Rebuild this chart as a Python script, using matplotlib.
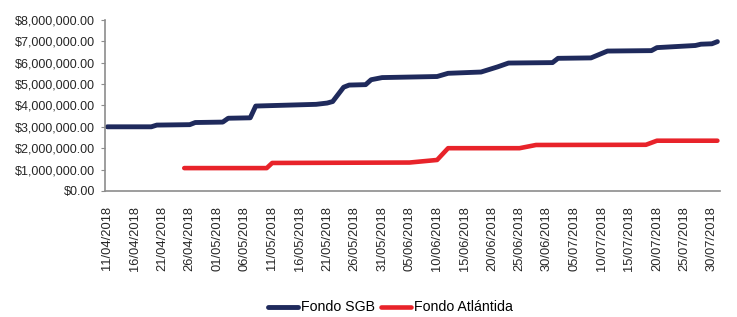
import matplotlib
matplotlib.use('Agg')
import matplotlib.pyplot as plt
import matplotlib.dates as mdates
from matplotlib.ticker import FuncFormatter
import pandas as pd

# Fondo SGB - readings at the points where the line changes
sgb_dates = ['2018-04-11', '2018-04-19', '2018-04-20', '2018-04-26', '2018-04-27',
             '2018-05-02', '2018-05-03', '2018-05-07', '2018-05-08', '2018-05-19',
             '2018-05-21', '2018-05-22', '2018-05-24', '2018-05-25', '2018-05-28',
             '2018-05-29', '2018-05-31', '2018-06-10', '2018-06-12', '2018-06-18',
             '2018-06-21', '2018-06-23', '2018-07-01', '2018-07-02', '2018-07-08',
             '2018-07-11', '2018-07-19', '2018-07-20', '2018-07-27', '2018-07-28',
             '2018-07-30', '2018-07-31']
sgb_values = [3.00, 3.00, 3.08, 3.10, 3.20,
              3.22, 3.40, 3.42, 3.97, 4.05,
              4.11, 4.18, 4.85, 4.95, 4.97,
              5.20, 5.30, 5.35, 5.50, 5.56,
              5.80, 5.98, 6.00, 6.20, 6.22,
              6.54, 6.56, 6.70, 6.80, 6.86,
              6.88, 6.98]

# Fondo Atlántida
atl_dates = ['2018-04-25', '2018-05-10', '2018-05-11', '2018-06-05', '2018-06-10',
             '2018-06-12', '2018-06-25', '2018-06-28', '2018-07-18', '2018-07-20',
             '2018-07-31']
atl_values = [1.07, 1.07, 1.31, 1.33, 1.45,
              2.00, 2.00, 2.15, 2.16, 2.35,
              2.35]

tick_dates = pd.date_range('2018-04-11', '2018-07-30', freq='5D')

fig = plt.figure(figsize=(7.37, 3.17), dpi=100)
ax = fig.add_axes([0.1425, 0.3975, 0.834, 0.54])

ax.plot(pd.to_datetime(sgb_dates), [v * 1e6 for v in sgb_values],
        color='#1f2a5c', lw=3.5, label='Fondo SGB', solid_capstyle='round')
ax.plot(pd.to_datetime(atl_dates), [v * 1e6 for v in atl_values],
        color='#e8232a', lw=3.3, label='Fondo Atlántida', solid_capstyle='round')

ax.set_ylim(0, 8e6)
ax.set_yticks([i * 1e6 for i in range(9)])
ax.yaxis.set_major_formatter(FuncFormatter(lambda v, p: '${:,.2f}'.format(v)))
ax.set_xlim(pd.Timestamp('2018-04-10 14:00'), pd.Timestamp('2018-07-31 10:00'))
ax.set_xticks(tick_dates)
ax.xaxis.set_major_formatter(mdates.DateFormatter('%d/%m/%Y'))
plt.setp(ax.get_xticklabels(), rotation=90)

for s in ['top', 'right']:
    ax.spines[s].set_visible(False)
for s in ['left', 'bottom']:
    ax.spines[s].set_color('#8c8c8c')
    ax.spines[s].set_linewidth(1.2)
ax.tick_params(axis='y', length=3, color='#8c8c8c', labelsize=9, pad=4)
ax.tick_params(axis='x', length=0, labelsize=9.3, pad=11)
for lab in ax.get_xticklabels() + ax.get_yticklabels():
    lab.set_fontfamily('Liberation Sans')
    lab.set_color('#262626')

fig.legend(loc='center', bbox_to_anchor=(0.53, 0.03), ncol=2, frameon=False,
           prop={'family': 'Liberation Sans', 'size': 10.2}, handlelength=2.1,
           columnspacing=0.4, handletextpad=0.25, borderpad=0.1)

fig.savefig('out.png', dpi=100)
